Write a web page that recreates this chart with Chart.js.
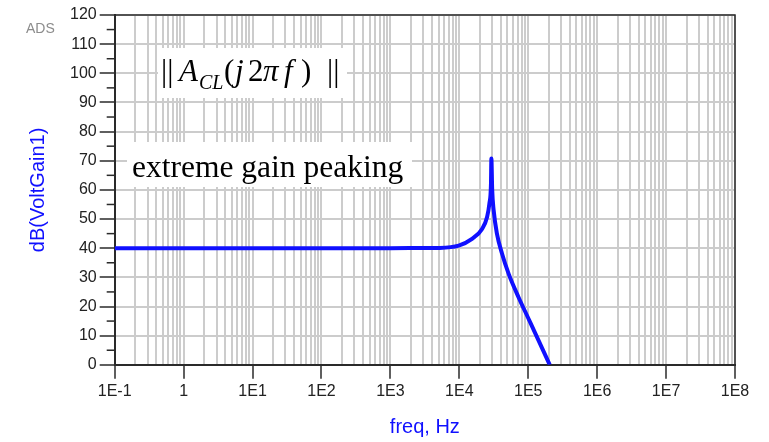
<!DOCTYPE html>
<html>
<head>
<meta charset="utf-8">
<script src="https://cdn.jsdelivr.net/npm/chart.js@4.4.1/dist/chart.umd.min.js"></script>
<style>
  body { margin: 0; background: #fff; }
  #wrap { width: 769px; height: 442px; }
</style>
</head>
<body>
<div id="wrap"><canvas id="gainChart"></canvas></div>
<script>
// closed-loop gain
const freqHz = [0.1, 1, 10, 100, 1000, 3000, 5050, 9800, 15300, 21400, 25300, 27300, 28800, 29200, 30000, 31500, 35200, 41700, 52000, 72600, 101000, 141000, 205000];
const gainDb = [40, 40, 40, 40, 40, 40.05, 40.1, 40.9, 43.2, 46.6, 50.7, 55.3, 62.1, 70.8, 60, 53, 44.9, 38.1, 31.2, 23.1, 15.8, 8.4, 0];

// axis ticks
const xDecades = [0.1, 1, 10, 100, 1e3, 1e4, 1e5, 1e6, 1e7, 1e8];
const xTickLabels = ['1E-1', '1', '1E1', '1E2', '1E3', '1E4', '1E5', '1E6', '1E7', '1E8'];
const yMajor = [0, 10, 20, 30, 40, 50, 60, 70, 80, 90, 100, 110, 120];

const isDecade = v => Math.abs(Math.log10(v) - Math.round(Math.log10(v))) < 1e-6;
const gridGray = '#cccccc';
const axisDark = '#2a2a2a';
const blue = '#1010ff';

const decorations = {
    id: 'decorations',
    beforeDatasetsDraw(chart) {
        const ctx = chart.ctx;
        ctx.save();
        // white label boxes over the grid
        ctx.fillStyle = '#fff';
        ctx.fillRect(158, 48, 189, 50);
        ctx.fillRect(127, 142, 285, 45);
        ctx.fillStyle = '#000';
        ctx.textBaseline = 'alphabetic';
        ctx.font = '31.5px "Liberation Serif"';
        ctx.fillText('extreme gain peaking', 132, 177);
        const parts = [
            ['||', 161, 81, 31, ''],
            ['A', 179, 81, 31, 'italic '],
            ['CL', 199, 89, 20, 'italic '],
            ['(', 224, 81, 31, ''],
            ['j', 235, 81, 31, 'italic '],
            ['2', 248, 81, 31, ''],
            ['π', 263, 81, 31, 'italic '],
            ['f', 284, 81, 31, 'italic '],
            [')', 301, 81, 31, ''],
            ['||', 327, 81, 31, '']
        ];
        parts.forEach(([t, x, y, s, st]) => {
            ctx.font = st + s + 'px "Liberation Serif"';
            ctx.fillText(t, x, y);
        });
        ctx.restore();
    },
    afterDraw(chart) {
        const ctx = chart.ctx;
        const {left, right, top, bottom} = chart.chartArea;
        const yScale = chart.scales.y;
        ctx.save();
        ctx.strokeStyle = axisDark;
        ctx.lineWidth = 1.5;
        ctx.beginPath();
        ctx.moveTo(left, top);
        ctx.lineTo(right, top);
        ctx.lineTo(right, bottom);
        ctx.stroke();
        // short minor ticks on the y axis
        for (let v = 5; v < 120; v += 10) {
            const py = yScale.getPixelForValue(v);
            ctx.beginPath();
            ctx.moveTo(left - 8, py);
            ctx.lineTo(left, py);
            ctx.stroke();
        }
        ctx.fillStyle = '#8c8c8c';
        ctx.font = '14px "Liberation Sans"';
        ctx.fillText('ADS', 26, 33);
        ctx.restore();
    }
};

new Chart(document.getElementById('gainChart'), {
    type: 'line',
    data: {
        datasets: [{
            data: freqHz.map((f, i) => ({ x: f, y: gainDb[i] })),
            borderColor: blue,
            borderWidth: 4,
            pointRadius: 0,
            fill: false,
            cubicInterpolationMode: 'monotone'
        }]
    },
    options: {
        responsive: true,
        maintainAspectRatio: false,
        animation: false,
        layout: { padding: { left: 6, right: 34, top: 15, bottom: 0 } },
        plugins: { legend: { display: false }, tooltip: { enabled: false } },
        scales: {
            x: {
                type: 'logarithmic',
                min: 0.1,
                max: 1e8,
                afterBuildTicks: scale => {
                    const ticks = [];
                    for (let d = 0; d < xDecades.length; d++) {
                        const base = xDecades[d];
                        const last = d === xDecades.length - 1 ? 1 : 9;
                        for (let k = 1; k <= last; k++) ticks.push({ value: base * k });
                    }
                    scale.ticks = ticks;
                },
                ticks: {
                    autoSkip: false,
                    maxRotation: 0,
                    padding: 3,
                    color: '#222',
                    font: { family: 'Liberation Sans', size: 16 },
                    callback: v => {
                        const i = xDecades.findIndex(d => Math.abs(d - v) / d < 1e-6);
                        return i >= 0 ? xTickLabels[i] : '';
                    }
                },
                grid: {
                    color: gridGray,
                    lineWidth: 2,
                    tickLength: 14,
                    tickWidth: 1.5,
                    tickColor: c => (c.tick && isDecade(c.tick.value) ? axisDark : 'transparent')
                },
                border: { color: axisDark, width: 2 },
                title: {
                    display: true,
                    text: 'freq, Hz',
                    color: blue,
                    font: { family: 'Liberation Sans', size: 20 },
                    padding: { top: 11, bottom: 3 }
                }
            },
            y: {
                min: 0,
                max: 120,
                ticks: {
                    stepSize: 5,
                    padding: 3,
                    color: '#222',
                    font: { family: 'Liberation Sans', size: 16 },
                    callback: v => (yMajor.includes(v) ? String(v) : '')
                },
                grid: {
                    color: c => (c.tick && yMajor.includes(c.tick.value) ? gridGray : 'transparent'),
                    lineWidth: 2,
                    tickLength: 15,
                    tickWidth: 1.5,
                    tickColor: c => (c.tick && yMajor.includes(c.tick.value) ? axisDark : 'transparent')
                },
                border: { color: axisDark, width: 2 },
                title: {
                    display: true,
                    text: 'dB(VoltGain1)',
                    color: blue,
                    font: { family: 'Liberation Sans', size: 20 },
                    padding: { top: 20, bottom: 17 }
                }
            }
        }
    },
    plugins: [decorations]
});
</script>
</body>
</html>
